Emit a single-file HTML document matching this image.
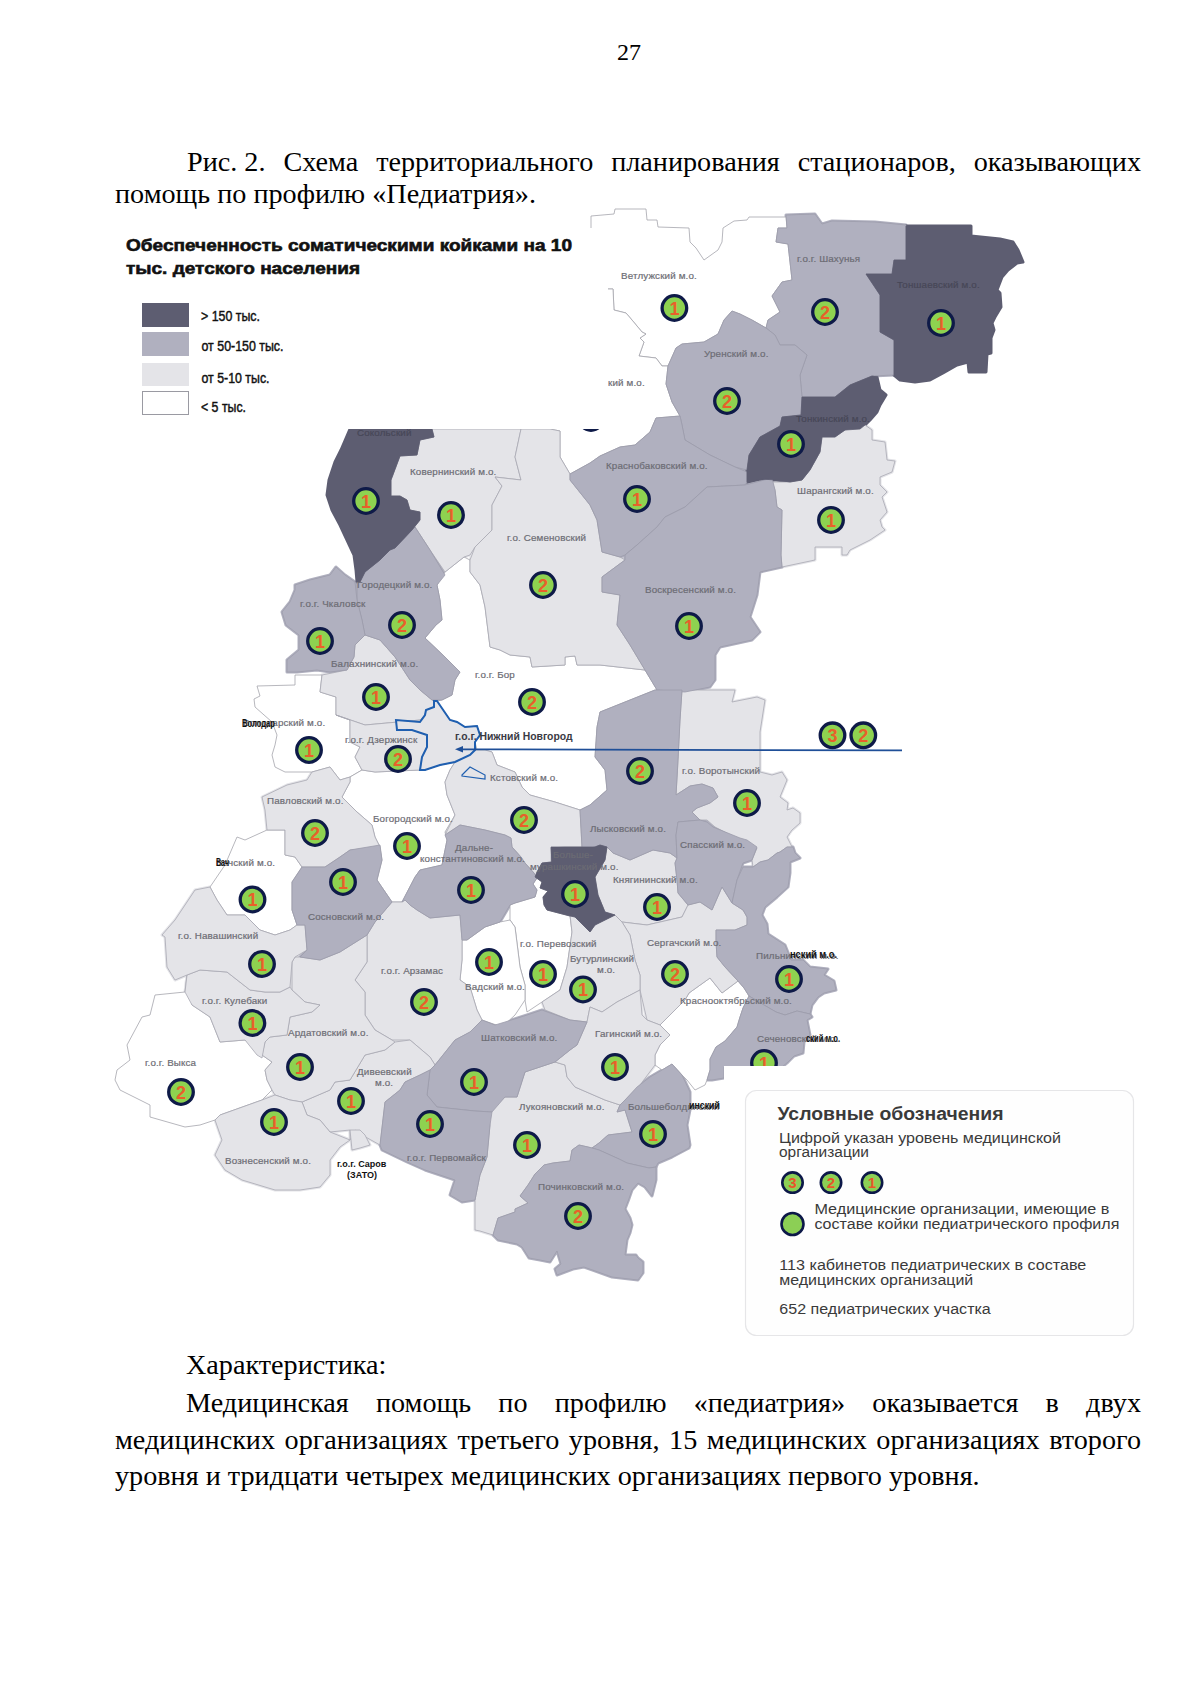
<!DOCTYPE html>
<html lang="ru"><head><meta charset="utf-8"><title>Рис. 2</title>
<style>
html,body{margin:0;padding:0;background:#fff}
body{width:1200px;height:1697px;position:relative;overflow:hidden}
.map{position:absolute;left:0;top:0}
.t{position:absolute;font-family:"Liberation Serif","Noto Serif CJK SC",serif;font-size:28.2px;line-height:28px;color:#000;white-space:nowrap}
.j{text-align:justify;text-align-last:justify;white-space:normal}
.ov{position:absolute;left:0;top:0}
</style></head><body>
<svg class="map" width="1200" height="1697" viewBox="0 0 1200 1697">
<style>
.W{fill:#fff;stroke:#a4a4ac;stroke-width:.8}
.L{fill:#e4e4e8;stroke:#a8a8b2;stroke-width:.8}
.M{fill:#b0b0bf;stroke:#9c9cab;stroke-width:.8}
.D{fill:#5d5d71;stroke:#5d5d71;stroke-width:.8}
.mr{fill:#8ed250;stroke:#0e1a48;stroke-width:3.3}
.mn{font:bold 18px "Liberation Sans",sans-serif;fill:#e8602a;text-anchor:middle}
.lb{font:9.8px "Liberation Sans",sans-serif;letter-spacing:.15px;fill:#6c6c74;stroke:#6c6c74;stroke-width:.2}
.lb.dk{fill:#474757;stroke:#474757}
.bk{font:bold 10.1px "Liberation Sans",sans-serif;fill:#111}
.nn{fill:none;stroke:#1f5fb0;stroke-width:2}
</style>
<polygon fill="#fff" stroke="#fff" stroke-width="3" stroke-linejoin="round" points="591,227 591,216 614,214 615,209 646,209 647,220 657,220 658,227 689,228 690,242 696,248 704,260 718,250 722,242 723,228 734,221 747,220 749,217 786,217 787,228 778,228 776,242 788,244 792,280 782,282 772,296 780,312 768,320 766,328 752,320 740,314 732,311 724,320 718,334 704,342 682,344 676,348 668,366 662,366 656,358 639,356 644,342 640,338 646,334 642,332 632,320 626,313 614,310 613,289 600,289 591,289"/>
<polygon fill="#fff" stroke="#fff" stroke-width="3" stroke-linejoin="round" points="600,289 613,289 614,310 626,313 632,320 642,332 646,334 640,338 644,342 639,356 656,358 662,366 668,366 666,384 672,402 680,416 656,418 650,432 635,445 620,447 600,456 590,463 570,474 560,457 560,431 550,429 540,429 540,289"/>
<polygon fill="#fff" stroke="#fff" stroke-width="3" stroke-linejoin="round" points="445,572 464,557 470,560 470,572 480,585 485,607 490,647 500,650 510,655 530,657 532,667 565,665 565,657 575,656 577,665 600,665 645,670 657,690 655,690 600,712 597,727 595,757 605,770 607,790 590,805 580,810 555,802 530,795 522,787 515,772 497,765 492,752 485,750 477,750 475,742 480,735 477,726 465,727 457,722 450,720 437,701 442,700 452,695 455,680 460,672 445,657 425,638 436,625 442,620 440,600 437,585"/>
<polygon fill="#fff" stroke="#fff" stroke-width="3" stroke-linejoin="round" points="257,686 295,685 295,675 322,675 320,692 336,697 336,715 350,720 350,742 360,747 355,757 362,770 350,777 340,780 330,767 312,772 305,772 285,772 275,767 272,755 275,745 277,735 272,722 255,707 254,699 260,696"/>
<polygon fill="#fff" stroke="#fff" stroke-width="3" stroke-linejoin="round" points="237,837 245,840 267,830 285,830 285,855 295,857 302,867 292,882 292,910 297,925 290,930 275,935 260,930 245,915 227,915 217,900 210,887 225,865"/>
<polygon fill="#fff" stroke="#fff" stroke-width="3" stroke-linejoin="round" points="350,777 362,770 375,772 420,770 425,770 440,765 455,762 450,770 445,782 447,795 455,815 445,832 447,840 442,865 420,870 415,877 402,902 392,902 377,880 382,860 380,847 375,837 372,825 357,812 342,797 350,782"/>
<polygon fill="#fff" stroke="#fff" stroke-width="3" stroke-linejoin="round" points="510,920 510,905 515,903 535,897 537,890 533,884 537,878 542,882 540,888 548,891 543,897 544,905 547,910 570,916 572,932 567,967 560,990 542,1002 527,1012 525,1000 525,985 520,967 515,927"/>
<polygon fill="#fff" stroke="#fff" stroke-width="3" stroke-linejoin="round" points="462,940 467,940 485,927 500,922 510,920 515,927 520,967 525,985 525,1000 515,1015 502,1027 482,1020 477,1010 470,987 460,980 462,960"/>
<polygon fill="#fff" stroke="#fff" stroke-width="3" stroke-linejoin="round" points="187,975 185,992 155,995 150,1015 142,1017 127,1045 130,1060 117,1070 115,1080 120,1090 150,1105 150,1117 185,1127 200,1125 215,1120 220,1115 262,1100 272,1090 267,1080 265,1070 272,1062 262,1055 245,1040 220,1042 210,1017 192,1005"/>
<polygon fill="#fff" stroke="#fff" stroke-width="3" stroke-linejoin="round" points="660,1025 685,1000 689,993 710,978 722,993 738,981 744,988 749,996 743,1008 740,1017 737,1027 725,1041 716,1047 710,1059 710,1070 707,1080 705,1085 695,1090 687,1080 682,1075 672,1064 662,1070 655,1065 655,1055 660,1045 670,1035"/>
<polygon fill="#e4e4e8" stroke="#e4e4e8" stroke-width="3" stroke-linejoin="round" points="845,430 865,425 872,430 872,440 885,442 887,460 895,461 892,472 880,477 880,485 887,492 882,497 887,512 880,520 882,527 885,530 870,540 850,550 847,555 842,555 842,547 815,547 815,560 782,567 781,555 782,510 777,507 775,490 772,482 790,482 802,480 810,470 820,452 822,437 835,437"/>
<polygon fill="#e4e4e8" stroke="#e4e4e8" stroke-width="3" stroke-linejoin="round" points="432,429 521,429 515,457 521,480 495,477 502,486 492,505 492,530 475,547 470,555 464,557 445,572 430,550 415,527 412,530 420,520 420,512 410,510 407,500 400,496 391,496 391,480 400,456 417,455 420,440 434,437"/>
<polygon fill="#e4e4e8" stroke="#e4e4e8" stroke-width="3" stroke-linejoin="round" points="521,429 550,429 560,431 560,457 570,474 570,480 590,505 597,520 602,552 620,557 625,560 602,577 602,592 620,595 617,625 630,645 645,670 600,665 577,665 575,656 565,657 565,665 532,667 530,657 510,655 500,650 490,647 485,607 480,585 470,572 470,560 475,547 492,530 492,505 502,486 495,477 521,480 515,457"/>
<polygon fill="#e4e4e8" stroke="#e4e4e8" stroke-width="3" stroke-linejoin="round" points="322,675 347,670 354,657 355,645 365,635 380,640 395,657 410,680 420,690 432,700 435,702 432,710 420,720 365,725 336,715 336,697 320,692"/>
<polygon fill="#e4e4e8" stroke="#e4e4e8" stroke-width="3" stroke-linejoin="round" points="336,715 365,725 420,720 432,710 434,707 426,710 425,715 420,722 396,720 397,730 412,730 427,735 427,747 422,757 420,770 375,772 362,770 355,757 360,747 350,742 350,720"/>
<polygon fill="#e4e4e8" stroke="#e4e4e8" stroke-width="3" stroke-linejoin="round" points="434,701 437,701 450,720 457,722 465,727 477,726 480,735 475,742 475,750 470,755 455,762 440,765 425,770 420,770 422,757 427,747 427,735 412,730 397,730 396,720 420,722 425,715 426,710 434,707"/>
<polygon fill="#e4e4e8" stroke="#e4e4e8" stroke-width="3" stroke-linejoin="round" points="262,797 287,785 307,780 312,772 330,767 340,780 350,777 350,782 342,797 357,812 372,825 375,837 380,847 350,850 340,857 325,867 302,867 295,857 285,855 285,830 267,830 265,810"/>
<polygon fill="#e4e4e8" stroke="#e4e4e8" stroke-width="3" stroke-linejoin="round" points="455,762 470,755 475,750 485,750 492,752 497,765 515,772 522,787 530,795 555,802 580,810 582,847 565,847 551,848 551,862 542,863 537,872 535,877 534,873 525,863 521,857 512,847 511,838 505,835 485,830 460,825 445,835 455,815 447,795 445,782 450,770"/>
<polygon fill="#e4e4e8" stroke="#e4e4e8" stroke-width="3" stroke-linejoin="round" points="682,690 735,690 732,702 757,697 765,700 760,732 760,750 760,772 772,775 782,772 787,780 780,797 788,803 787,810 793,808 800,813 800,823 792,830 787,837 792,847 787,847 780,852 777,853 768,860 760,862 753,867 752,860 757,848 743,847 740,840 715,827 707,820 700,820 692,812 697,808 710,803 718,797 713,788 702,784 690,786 676,795 677,778 678,760 680,720"/>
<polygon fill="#e4e4e8" stroke="#e4e4e8" stroke-width="3" stroke-linejoin="round" points="607,847 613,853 630,860 653,850 670,853 677,858 675,863 677,880 678,893 688,905 682,917 647,925 622,922 615,915 605,912 598,895 595,877 605,860"/>
<polygon fill="#e4e4e8" stroke="#e4e4e8" stroke-width="3" stroke-linejoin="round" points="635,960 630,935 622,922 647,925 682,917 688,905 700,902 712,910 722,887 732,903 743,910 747,917 747,925 735,930 716,930 716,942 717,957 725,967 738,981 722,993 710,978 689,993 685,1000 660,1025 647,1020 640,990 640,975"/>
<polygon fill="#e4e4e8" stroke="#e4e4e8" stroke-width="3" stroke-linejoin="round" points="570,915 575,917 590,932 595,925 615,915 622,922 630,935 635,960 640,975 640,990 617,1002 602,1012 590,1007 587,1022 570,1020 545,1010 542,1002 560,990 567,967 572,932"/>
<polygon fill="#e4e4e8" stroke="#e4e4e8" stroke-width="3" stroke-linejoin="round" points="367,935 375,922 392,902 402,902 405,900 410,905 417,910 430,918 460,915 462,940 462,960 460,980 470,987 477,1010 482,1020 470,1032 455,1040 435,1065 430,1057 410,1040 392,1040 375,1030 365,1015 365,992 355,980 367,962"/>
<polygon fill="#e4e4e8" stroke="#e4e4e8" stroke-width="3" stroke-linejoin="round" points="350,1140 350,1130 330,1132 320,1120 307,1115 302,1102 330,1090 335,1082 350,1080 365,1055 385,1050 395,1042 410,1040 430,1057 435,1065 430,1070 420,1075 405,1082 400,1090 385,1102 380,1145 362,1135 355,1130"/>
<polygon fill="#e4e4e8" stroke="#e4e4e8" stroke-width="3" stroke-linejoin="round" points="265,1042 270,1037 287,1035 290,1017 312,1012 320,1005 305,1002 292,990 292,962 295,957 300,957 320,960 340,952 367,935 367,962 355,980 365,992 365,1015 375,1030 392,1040 395,1042 385,1050 365,1055 350,1080 335,1082 330,1090 302,1102 290,1100 275,1095 272,1090 267,1080 265,1070 272,1062 262,1055"/>
<polygon fill="#e4e4e8" stroke="#e4e4e8" stroke-width="3" stroke-linejoin="round" points="187,975 200,970 227,972 250,990 265,992 280,992 290,987 292,990 305,1002 320,1005 312,1012 290,1017 287,1035 270,1037 265,1042 262,1058 257,1055 245,1040 220,1042 210,1017 192,1005 185,992"/>
<polygon fill="#e4e4e8" stroke="#e4e4e8" stroke-width="3" stroke-linejoin="round" points="162,935 175,920 195,890 210,887 217,900 227,915 245,915 260,930 275,935 290,930 297,925 305,925 307,950 295,957 292,962 290,987 280,992 265,992 250,990 227,972 200,970 187,975 175,980 167,967 165,937"/>
<polygon fill="#e4e4e8" stroke="#e4e4e8" stroke-width="3" stroke-linejoin="round" points="215,1120 220,1115 262,1100 275,1095 290,1100 302,1102 307,1115 320,1120 330,1132 350,1140 340,1147 330,1160 330,1175 320,1187 300,1190 275,1190 242,1180 225,1170 215,1155 222,1140"/>
<polygon fill="#e4e4e8" stroke="#e4e4e8" stroke-width="3" stroke-linejoin="round" points="487,1112 505,1097 517,1097 525,1072 555,1062 565,1065 567,1077 575,1087 605,1100 620,1105 617,1112 625,1110 632,1132 616,1134 608,1135 599,1143 592,1148 588,1147 579,1145 572,1150 570,1161 553,1163 544,1165 535,1174 528,1185 520,1196 528,1203 515,1209 515,1212 498,1218 493,1235 480,1231 475,1230 475,1200 480,1175 487,1157 490,1125"/>
<polygon fill="#e4e4e8" stroke="#e4e4e8" stroke-width="3" stroke-linejoin="round" points="577,1045 587,1022 590,1007 602,1012 617,1002 640,990 642,1015 647,1020 660,1025 670,1035 660,1045 655,1055 655,1065 640,1085 625,1100 620,1105 605,1100 575,1087 567,1077 565,1065 555,1062 570,1050"/>
<polygon fill="#e4e4e8" stroke="#e4e4e8" stroke-width="3" stroke-linejoin="round" points="350,1130 360,1130 365,1135 370,1145 360,1148 352,1150"/>
<polygon fill="#b0b0bf" stroke="#b0b0bf" stroke-width="3" stroke-linejoin="round" points="786,215 815,214 822,224 832,221 875,222 906,225 906,260 894,260 892,274 866,274 880,295 880,332 894,340 894,375 872,376 850,385 835,397 802,397 800,375 807,355 795,345 780,345 775,335 766,328 768,320 780,312 772,296 782,282 792,280 788,244 776,242 778,228 787,228"/>
<polygon fill="#b0b0bf" stroke="#b0b0bf" stroke-width="3" stroke-linejoin="round" points="766,328 752,320 740,314 732,311 724,320 718,334 704,342 682,344 676,348 668,366 666,384 672,402 680,416 682,425 685,440 710,455 735,467 747,470 749,455 760,437 780,426 782,417 801,415 802,397 800,375 807,355 795,345 780,345 775,335"/>
<polygon fill="#b0b0bf" stroke="#b0b0bf" stroke-width="3" stroke-linejoin="round" points="570,474 590,463 600,456 620,447 635,445 650,432 656,418 680,416 682,425 685,440 710,455 735,467 747,472 747,482 745,485 707,487 685,507 665,517 657,527 637,545 625,555 620,557 602,552 597,520 590,505 570,480"/>
<polygon fill="#b0b0bf" stroke="#b0b0bf" stroke-width="3" stroke-linejoin="round" points="707,487 745,485 772,478 775,490 777,507 782,510 781,555 782,567 760,572 757,595 750,617 760,632 752,640 720,647 715,655 715,680 710,687 685,692 657,690 645,670 630,645 617,625 620,595 602,592 602,577 625,560 625,555 637,545 657,527 665,517 685,507"/>
<polygon fill="#b0b0bf" stroke="#b0b0bf" stroke-width="3" stroke-linejoin="round" points="357,582 360,582 365,572 380,560 390,550 395,548 412,530 415,527 430,550 445,575 437,585 440,600 442,620 436,625 425,638 445,657 460,672 455,680 452,695 442,700 432,700 420,690 410,680 395,657 380,640 365,635 362,620 357,600"/>
<polygon fill="#b0b0bf" stroke="#b0b0bf" stroke-width="3" stroke-linejoin="round" points="336,567 345,575 355,582 357,600 362,620 365,635 355,645 354,657 347,670 330,672 317,670 297,672 287,672 287,660 299,650 299,635 286,625 282,612 290,602 295,590 295,585 310,580 330,575"/>
<polygon fill="#b0b0bf" stroke="#b0b0bf" stroke-width="3" stroke-linejoin="round" points="302,867 325,867 340,857 350,850 380,845 382,860 377,880 392,902 375,922 367,935 340,952 320,960 300,957 307,950 305,925 297,925 292,910 292,882"/>
<polygon fill="#b0b0bf" stroke="#b0b0bf" stroke-width="3" stroke-linejoin="round" points="445,835 460,825 485,830 505,835 511,838 512,847 521,857 525,863 534,873 537,878 533,884 537,890 535,897 515,903 510,905 500,922 485,927 467,940 462,940 460,915 430,918 417,910 410,905 405,900 402,902 415,877 420,870 442,865 447,840"/>
<polygon fill="#b0b0bf" stroke="#b0b0bf" stroke-width="3" stroke-linejoin="round" points="600,712 655,690 682,690 680,720 678,760 677,778 676,795 690,786 702,784 713,788 718,797 710,803 697,808 692,812 700,820 678,822 676,835 677,858 670,853 653,850 630,860 613,853 607,847 600,845 585,850 582,847 580,810 590,805 607,790 605,770 595,757 597,727"/>
<polygon fill="#b0b0bf" stroke="#b0b0bf" stroke-width="3" stroke-linejoin="round" points="678,822 700,820 707,822 713,827 740,838 747,840 757,847 752,860 743,863 737,880 732,903 722,887 712,910 700,902 688,905 678,893 677,880 675,863 677,858 676,835"/>
<polygon fill="#b0b0bf" stroke="#b0b0bf" stroke-width="3" stroke-linejoin="round" points="737,880 743,867 753,867 760,862 768,860 777,853 780,852 787,847 793,847 795,853 800,858 790,862 790,873 788,887 777,897 765,907 762,915 767,924 768,934 785,945 791,960 803,960 810,967 828,969 824,975 834,981 836,990 824,993 818,997 812,1005 810,1014 797,1011 785,1015 776,1012 764,1005 749,996 744,988 738,981 725,967 717,957 716,942 716,930 735,930 747,925 747,917 743,910 732,903"/>
<polygon fill="#b0b0bf" stroke="#b0b0bf" stroke-width="3" stroke-linejoin="round" points="435,1065 455,1040 470,1032 482,1020 495,1025 505,1022 527,1015 542,1010 570,1020 587,1022 577,1045 570,1050 555,1062 525,1072 517,1097 505,1097 492,1112 475,1111 437,1107 427,1095 430,1070"/>
<polygon fill="#b0b0bf" stroke="#b0b0bf" stroke-width="3" stroke-linejoin="round" points="380,1145 385,1102 400,1090 405,1082 420,1075 430,1070 427,1095 437,1107 475,1111 492,1112 490,1125 487,1157 480,1175 475,1200 462,1202 450,1195 455,1180 425,1170 407,1162 382,1150"/>
<polygon fill="#b0b0bf" stroke="#b0b0bf" stroke-width="3" stroke-linejoin="round" points="637,1087 650,1077 662,1070 672,1064 682,1075 690,1092 690,1110 687,1125 690,1145 689,1148 672,1157 658,1163 656,1167 649,1168 627,1163 619,1159 599,1150 592,1148 599,1143 608,1135 616,1134 632,1132 625,1110 617,1112 620,1105 625,1100"/>
<polygon fill="#b0b0bf" stroke="#b0b0bf" stroke-width="3" stroke-linejoin="round" points="493,1235 498,1218 515,1212 515,1209 528,1203 520,1196 528,1185 535,1174 544,1165 553,1163 570,1161 572,1150 579,1145 588,1147 592,1148 599,1150 619,1159 627,1163 649,1168 656,1167 656,1174 656,1180 652,1196 645,1187 638,1183 632,1190 628.5,1200 625,1209 630,1218 632,1225 630,1233 627,1240 625,1255 636,1255 638,1258 643,1262 643,1273 638,1280 612,1277 584,1267 573,1269 557,1275 555,1269 561,1264 557,1251 550,1262 540,1260 529,1258 522,1247 517,1244 498,1240"/>
<polygon fill="#b0b0bf" stroke="#b0b0bf" stroke-width="3" stroke-linejoin="round" points="749,996 764,1005 776,1012 785,1015 797,1011 810,1014 812,1017 807,1020 810,1035 804,1042 803,1053 794,1056 788,1062 782,1067 724,1067 724,1078 712,1080 707,1080 710,1070 710,1059 716,1047 725,1041 737,1027 740,1017 743,1008"/>
<polygon fill="#5d5d71" stroke="#5d5d71" stroke-width="3" stroke-linejoin="round" points="906,226 971,226 971,236 1000,239 1013,242 1018,250 1023,262 1017,263 1008,270 1002,277 997,290 1000,293 1001,307 995,317 992,323 994,330 991,338 991,353 987,354 986,372 969,372 968,362 957,365 943,373 930,380 915,382 900,380 894,375 894,340 880,332 880,295 866,274 892,274 894,260 906,260"/>
<polygon fill="#5d5d71" stroke="#5d5d71" stroke-width="3" stroke-linejoin="round" points="802,397 835,397 850,385 872,376 877,377 880,390 886,395 880,405 877,412 870,420 865,425 860,429 845,430 835,437 822,437 820,452 810,470 802,480 790,482 777,480 760,479 747,482 747,470 749,455 760,437 780,426 782,417 801,415"/>
<polygon fill="#5d5d71" stroke="#5d5d71" stroke-width="3" stroke-linejoin="round" points="350,429 432,429 434,437 420,440 417,455 400,456 391,480 391,496 400,496 407,500 410,510 420,512 420,520 412,530 395,548 390,550 380,560 365,572 360,582 357,582 356,570 354,555 347,540 340,525 332,510 327,495 329,480 335,462 341,450"/>
<polygon fill="#5d5d71" stroke="#5d5d71" stroke-width="3" stroke-linejoin="round" points="551,847 565,847 595,847 600,845 607,847 605,860 595,877 598,895 605,912 615,915 595,925 590,932 575,917 570,916 547,910 544,905 543,897 548,891 540,888 542,882 535,877 537,872 542,863 552,862"/>
<polygon class="W" points="591,227 591,216 614,214 615,209 646,209 647,220 657,220 658,227 689,228 690,242 696,248 704,260 718,250 722,242 723,228 734,221 747,220 749,217 786,217 787,228 778,228 776,242 788,244 792,280 782,282 772,296 780,312 768,320 766,328 752,320 740,314 732,311 724,320 718,334 704,342 682,344 676,348 668,366 662,366 656,358 639,356 644,342 640,338 646,334 642,332 632,320 626,313 614,310 613,289 600,289 591,289"/>
<polygon class="W" points="600,289 613,289 614,310 626,313 632,320 642,332 646,334 640,338 644,342 639,356 656,358 662,366 668,366 666,384 672,402 680,416 656,418 650,432 635,445 620,447 600,456 590,463 570,474 560,457 560,431 550,429 540,429 540,289"/>
<polygon class="W" points="445,572 464,557 470,560 470,572 480,585 485,607 490,647 500,650 510,655 530,657 532,667 565,665 565,657 575,656 577,665 600,665 645,670 657,690 655,690 600,712 597,727 595,757 605,770 607,790 590,805 580,810 555,802 530,795 522,787 515,772 497,765 492,752 485,750 477,750 475,742 480,735 477,726 465,727 457,722 450,720 437,701 442,700 452,695 455,680 460,672 445,657 425,638 436,625 442,620 440,600 437,585"/>
<polygon class="W" points="257,686 295,685 295,675 322,675 320,692 336,697 336,715 350,720 350,742 360,747 355,757 362,770 350,777 340,780 330,767 312,772 305,772 285,772 275,767 272,755 275,745 277,735 272,722 255,707 254,699 260,696"/>
<polygon class="W" points="237,837 245,840 267,830 285,830 285,855 295,857 302,867 292,882 292,910 297,925 290,930 275,935 260,930 245,915 227,915 217,900 210,887 225,865"/>
<polygon class="W" points="350,777 362,770 375,772 420,770 425,770 440,765 455,762 450,770 445,782 447,795 455,815 445,832 447,840 442,865 420,870 415,877 402,902 392,902 377,880 382,860 380,847 375,837 372,825 357,812 342,797 350,782"/>
<polygon class="W" points="510,920 510,905 515,903 535,897 537,890 533,884 537,878 542,882 540,888 548,891 543,897 544,905 547,910 570,916 572,932 567,967 560,990 542,1002 527,1012 525,1000 525,985 520,967 515,927"/>
<polygon class="W" points="462,940 467,940 485,927 500,922 510,920 515,927 520,967 525,985 525,1000 515,1015 502,1027 482,1020 477,1010 470,987 460,980 462,960"/>
<polygon class="W" points="187,975 185,992 155,995 150,1015 142,1017 127,1045 130,1060 117,1070 115,1080 120,1090 150,1105 150,1117 185,1127 200,1125 215,1120 220,1115 262,1100 272,1090 267,1080 265,1070 272,1062 262,1055 245,1040 220,1042 210,1017 192,1005"/>
<polygon class="W" points="660,1025 685,1000 689,993 710,978 722,993 738,981 744,988 749,996 743,1008 740,1017 737,1027 725,1041 716,1047 710,1059 710,1070 707,1080 705,1085 695,1090 687,1080 682,1075 672,1064 662,1070 655,1065 655,1055 660,1045 670,1035"/>
<polygon class="L" points="845,430 865,425 872,430 872,440 885,442 887,460 895,461 892,472 880,477 880,485 887,492 882,497 887,512 880,520 882,527 885,530 870,540 850,550 847,555 842,555 842,547 815,547 815,560 782,567 781,555 782,510 777,507 775,490 772,482 790,482 802,480 810,470 820,452 822,437 835,437"/>
<polygon class="L" points="432,429 521,429 515,457 521,480 495,477 502,486 492,505 492,530 475,547 470,555 464,557 445,572 430,550 415,527 412,530 420,520 420,512 410,510 407,500 400,496 391,496 391,480 400,456 417,455 420,440 434,437"/>
<polygon class="L" points="521,429 550,429 560,431 560,457 570,474 570,480 590,505 597,520 602,552 620,557 625,560 602,577 602,592 620,595 617,625 630,645 645,670 600,665 577,665 575,656 565,657 565,665 532,667 530,657 510,655 500,650 490,647 485,607 480,585 470,572 470,560 475,547 492,530 492,505 502,486 495,477 521,480 515,457"/>
<polygon class="L" points="322,675 347,670 354,657 355,645 365,635 380,640 395,657 410,680 420,690 432,700 435,702 432,710 420,720 365,725 336,715 336,697 320,692"/>
<polygon class="L" points="336,715 365,725 420,720 432,710 434,707 426,710 425,715 420,722 396,720 397,730 412,730 427,735 427,747 422,757 420,770 375,772 362,770 355,757 360,747 350,742 350,720"/>
<polygon class="L" points="434,701 437,701 450,720 457,722 465,727 477,726 480,735 475,742 475,750 470,755 455,762 440,765 425,770 420,770 422,757 427,747 427,735 412,730 397,730 396,720 420,722 425,715 426,710 434,707"/>
<polygon class="L" points="262,797 287,785 307,780 312,772 330,767 340,780 350,777 350,782 342,797 357,812 372,825 375,837 380,847 350,850 340,857 325,867 302,867 295,857 285,855 285,830 267,830 265,810"/>
<polygon class="L" points="455,762 470,755 475,750 485,750 492,752 497,765 515,772 522,787 530,795 555,802 580,810 582,847 565,847 551,848 551,862 542,863 537,872 535,877 534,873 525,863 521,857 512,847 511,838 505,835 485,830 460,825 445,835 455,815 447,795 445,782 450,770"/>
<polygon class="L" points="682,690 735,690 732,702 757,697 765,700 760,732 760,750 760,772 772,775 782,772 787,780 780,797 788,803 787,810 793,808 800,813 800,823 792,830 787,837 792,847 787,847 780,852 777,853 768,860 760,862 753,867 752,860 757,848 743,847 740,840 715,827 707,820 700,820 692,812 697,808 710,803 718,797 713,788 702,784 690,786 676,795 677,778 678,760 680,720"/>
<polygon class="L" points="607,847 613,853 630,860 653,850 670,853 677,858 675,863 677,880 678,893 688,905 682,917 647,925 622,922 615,915 605,912 598,895 595,877 605,860"/>
<polygon class="L" points="635,960 630,935 622,922 647,925 682,917 688,905 700,902 712,910 722,887 732,903 743,910 747,917 747,925 735,930 716,930 716,942 717,957 725,967 738,981 722,993 710,978 689,993 685,1000 660,1025 647,1020 640,990 640,975"/>
<polygon class="L" points="570,915 575,917 590,932 595,925 615,915 622,922 630,935 635,960 640,975 640,990 617,1002 602,1012 590,1007 587,1022 570,1020 545,1010 542,1002 560,990 567,967 572,932"/>
<polygon class="L" points="367,935 375,922 392,902 402,902 405,900 410,905 417,910 430,918 460,915 462,940 462,960 460,980 470,987 477,1010 482,1020 470,1032 455,1040 435,1065 430,1057 410,1040 392,1040 375,1030 365,1015 365,992 355,980 367,962"/>
<polygon class="L" points="350,1140 350,1130 330,1132 320,1120 307,1115 302,1102 330,1090 335,1082 350,1080 365,1055 385,1050 395,1042 410,1040 430,1057 435,1065 430,1070 420,1075 405,1082 400,1090 385,1102 380,1145 362,1135 355,1130"/>
<polygon class="L" points="265,1042 270,1037 287,1035 290,1017 312,1012 320,1005 305,1002 292,990 292,962 295,957 300,957 320,960 340,952 367,935 367,962 355,980 365,992 365,1015 375,1030 392,1040 395,1042 385,1050 365,1055 350,1080 335,1082 330,1090 302,1102 290,1100 275,1095 272,1090 267,1080 265,1070 272,1062 262,1055"/>
<polygon class="L" points="187,975 200,970 227,972 250,990 265,992 280,992 290,987 292,990 305,1002 320,1005 312,1012 290,1017 287,1035 270,1037 265,1042 262,1058 257,1055 245,1040 220,1042 210,1017 192,1005 185,992"/>
<polygon class="L" points="162,935 175,920 195,890 210,887 217,900 227,915 245,915 260,930 275,935 290,930 297,925 305,925 307,950 295,957 292,962 290,987 280,992 265,992 250,990 227,972 200,970 187,975 175,980 167,967 165,937"/>
<polygon class="L" points="215,1120 220,1115 262,1100 275,1095 290,1100 302,1102 307,1115 320,1120 330,1132 350,1140 340,1147 330,1160 330,1175 320,1187 300,1190 275,1190 242,1180 225,1170 215,1155 222,1140"/>
<polygon class="L" points="487,1112 505,1097 517,1097 525,1072 555,1062 565,1065 567,1077 575,1087 605,1100 620,1105 617,1112 625,1110 632,1132 616,1134 608,1135 599,1143 592,1148 588,1147 579,1145 572,1150 570,1161 553,1163 544,1165 535,1174 528,1185 520,1196 528,1203 515,1209 515,1212 498,1218 493,1235 480,1231 475,1230 475,1200 480,1175 487,1157 490,1125"/>
<polygon class="L" points="577,1045 587,1022 590,1007 602,1012 617,1002 640,990 642,1015 647,1020 660,1025 670,1035 660,1045 655,1055 655,1065 640,1085 625,1100 620,1105 605,1100 575,1087 567,1077 565,1065 555,1062 570,1050"/>
<polygon class="L" points="350,1130 360,1130 365,1135 370,1145 360,1148 352,1150"/>
<polygon class="M" points="786,215 815,214 822,224 832,221 875,222 906,225 906,260 894,260 892,274 866,274 880,295 880,332 894,340 894,375 872,376 850,385 835,397 802,397 800,375 807,355 795,345 780,345 775,335 766,328 768,320 780,312 772,296 782,282 792,280 788,244 776,242 778,228 787,228"/>
<polygon class="M" points="766,328 752,320 740,314 732,311 724,320 718,334 704,342 682,344 676,348 668,366 666,384 672,402 680,416 682,425 685,440 710,455 735,467 747,470 749,455 760,437 780,426 782,417 801,415 802,397 800,375 807,355 795,345 780,345 775,335"/>
<polygon class="M" points="570,474 590,463 600,456 620,447 635,445 650,432 656,418 680,416 682,425 685,440 710,455 735,467 747,472 747,482 745,485 707,487 685,507 665,517 657,527 637,545 625,555 620,557 602,552 597,520 590,505 570,480"/>
<polygon class="M" points="707,487 745,485 772,478 775,490 777,507 782,510 781,555 782,567 760,572 757,595 750,617 760,632 752,640 720,647 715,655 715,680 710,687 685,692 657,690 645,670 630,645 617,625 620,595 602,592 602,577 625,560 625,555 637,545 657,527 665,517 685,507"/>
<polygon class="M" points="357,582 360,582 365,572 380,560 390,550 395,548 412,530 415,527 430,550 445,575 437,585 440,600 442,620 436,625 425,638 445,657 460,672 455,680 452,695 442,700 432,700 420,690 410,680 395,657 380,640 365,635 362,620 357,600"/>
<polygon class="M" points="336,567 345,575 355,582 357,600 362,620 365,635 355,645 354,657 347,670 330,672 317,670 297,672 287,672 287,660 299,650 299,635 286,625 282,612 290,602 295,590 295,585 310,580 330,575"/>
<polygon class="M" points="302,867 325,867 340,857 350,850 380,845 382,860 377,880 392,902 375,922 367,935 340,952 320,960 300,957 307,950 305,925 297,925 292,910 292,882"/>
<polygon class="M" points="445,835 460,825 485,830 505,835 511,838 512,847 521,857 525,863 534,873 537,878 533,884 537,890 535,897 515,903 510,905 500,922 485,927 467,940 462,940 460,915 430,918 417,910 410,905 405,900 402,902 415,877 420,870 442,865 447,840"/>
<polygon class="M" points="600,712 655,690 682,690 680,720 678,760 677,778 676,795 690,786 702,784 713,788 718,797 710,803 697,808 692,812 700,820 678,822 676,835 677,858 670,853 653,850 630,860 613,853 607,847 600,845 585,850 582,847 580,810 590,805 607,790 605,770 595,757 597,727"/>
<polygon class="M" points="678,822 700,820 707,822 713,827 740,838 747,840 757,847 752,860 743,863 737,880 732,903 722,887 712,910 700,902 688,905 678,893 677,880 675,863 677,858 676,835"/>
<polygon class="M" points="737,880 743,867 753,867 760,862 768,860 777,853 780,852 787,847 793,847 795,853 800,858 790,862 790,873 788,887 777,897 765,907 762,915 767,924 768,934 785,945 791,960 803,960 810,967 828,969 824,975 834,981 836,990 824,993 818,997 812,1005 810,1014 797,1011 785,1015 776,1012 764,1005 749,996 744,988 738,981 725,967 717,957 716,942 716,930 735,930 747,925 747,917 743,910 732,903"/>
<polygon class="M" points="435,1065 455,1040 470,1032 482,1020 495,1025 505,1022 527,1015 542,1010 570,1020 587,1022 577,1045 570,1050 555,1062 525,1072 517,1097 505,1097 492,1112 475,1111 437,1107 427,1095 430,1070"/>
<polygon class="M" points="380,1145 385,1102 400,1090 405,1082 420,1075 430,1070 427,1095 437,1107 475,1111 492,1112 490,1125 487,1157 480,1175 475,1200 462,1202 450,1195 455,1180 425,1170 407,1162 382,1150"/>
<polygon class="M" points="637,1087 650,1077 662,1070 672,1064 682,1075 690,1092 690,1110 687,1125 690,1145 689,1148 672,1157 658,1163 656,1167 649,1168 627,1163 619,1159 599,1150 592,1148 599,1143 608,1135 616,1134 632,1132 625,1110 617,1112 620,1105 625,1100"/>
<polygon class="M" points="493,1235 498,1218 515,1212 515,1209 528,1203 520,1196 528,1185 535,1174 544,1165 553,1163 570,1161 572,1150 579,1145 588,1147 592,1148 599,1150 619,1159 627,1163 649,1168 656,1167 656,1174 656,1180 652,1196 645,1187 638,1183 632,1190 628.5,1200 625,1209 630,1218 632,1225 630,1233 627,1240 625,1255 636,1255 638,1258 643,1262 643,1273 638,1280 612,1277 584,1267 573,1269 557,1275 555,1269 561,1264 557,1251 550,1262 540,1260 529,1258 522,1247 517,1244 498,1240"/>
<polygon class="M" points="749,996 764,1005 776,1012 785,1015 797,1011 810,1014 812,1017 807,1020 810,1035 804,1042 803,1053 794,1056 788,1062 782,1067 724,1067 724,1078 712,1080 707,1080 710,1070 710,1059 716,1047 725,1041 737,1027 740,1017 743,1008"/>
<polygon class="D" points="906,226 971,226 971,236 1000,239 1013,242 1018,250 1023,262 1017,263 1008,270 1002,277 997,290 1000,293 1001,307 995,317 992,323 994,330 991,338 991,353 987,354 986,372 969,372 968,362 957,365 943,373 930,380 915,382 900,380 894,375 894,340 880,332 880,295 866,274 892,274 894,260 906,260"/>
<polygon class="D" points="802,397 835,397 850,385 872,376 877,377 880,390 886,395 880,405 877,412 870,420 865,425 860,429 845,430 835,437 822,437 820,452 810,470 802,480 790,482 777,480 760,479 747,482 747,470 749,455 760,437 780,426 782,417 801,415"/>
<polygon class="D" points="350,429 432,429 434,437 420,440 417,455 400,456 391,480 391,496 400,496 407,500 410,510 420,512 420,520 412,530 395,548 390,550 380,560 365,572 360,582 357,582 356,570 354,555 347,540 340,525 332,510 327,495 329,480 335,462 341,450"/>
<polygon class="D" points="551,847 565,847 595,847 600,845 607,847 605,860 595,877 598,895 605,912 615,915 595,925 590,932 575,917 570,916 547,910 544,905 543,897 548,891 540,888 542,882 535,877 537,872 542,863 552,862"/>
<polygon class="nn" points="434,701 437,701 450,720 457,722 465,727 477,726 480,735 475,742 475,750 470,755 455,762 440,765 425,770 420,770 422,757 427,747 427,735 412,730 397,730 396,720 420,722 425,715 426,710 434,707"/>
<polygon class="nn" style="stroke-width:1.2" points="462,775 470,767 485,775 485,779 462,776"/>
<line x1="460" y1="749.3" x2="902" y2="750.4" stroke="#1f4f98" stroke-width="1.7"/>
<polygon points="455,749.3 463,746 463,752.6" fill="#1f4f98"/>
<g transform="translate(674.4,308)"><circle r="12.3" class="mr"/><text y="6.5" class="mn">1</text></g>
<g transform="translate(825,312)"><circle r="12.3" class="mr"/><text y="6.5" class="mn">2</text></g>
<g transform="translate(941,323)"><circle r="12.3" class="mr"/><text y="6.5" class="mn">1</text></g>
<g transform="translate(727,401)"><circle r="12.3" class="mr"/><text y="6.5" class="mn">2</text></g>
<g transform="translate(791,444)"><circle r="12.3" class="mr"/><text y="6.5" class="mn">1</text></g>
<g transform="translate(591,418)"><circle r="12.3" class="mr"/><text y="6.5" class="mn">1</text></g>
<g transform="translate(366,501)"><circle r="12.3" class="mr"/><text y="6.5" class="mn">1</text></g>
<g transform="translate(451,515)"><circle r="12.3" class="mr"/><text y="6.5" class="mn">1</text></g>
<g transform="translate(637,499)"><circle r="12.3" class="mr"/><text y="6.5" class="mn">1</text></g>
<g transform="translate(831,520)"><circle r="12.3" class="mr"/><text y="6.5" class="mn">1</text></g>
<g transform="translate(543,585)"><circle r="12.3" class="mr"/><text y="6.5" class="mn">2</text></g>
<g transform="translate(320,641)"><circle r="12.3" class="mr"/><text y="6.5" class="mn">1</text></g>
<g transform="translate(402,625)"><circle r="12.3" class="mr"/><text y="6.5" class="mn">2</text></g>
<g transform="translate(689,626)"><circle r="12.3" class="mr"/><text y="6.5" class="mn">1</text></g>
<g transform="translate(376,697)"><circle r="12.3" class="mr"/><text y="6.5" class="mn">1</text></g>
<g transform="translate(532,702)"><circle r="12.3" class="mr"/><text y="6.5" class="mn">2</text></g>
<g transform="translate(309,750)"><circle r="12.3" class="mr"/><text y="6.5" class="mn">1</text></g>
<g transform="translate(398,759)"><circle r="12.3" class="mr"/><text y="6.5" class="mn">2</text></g>
<g transform="translate(640,771)"><circle r="12.3" class="mr"/><text y="6.5" class="mn">2</text></g>
<g transform="translate(832.5,735.3)"><circle r="12.3" class="mr"/><text y="6.5" class="mn">3</text></g>
<g transform="translate(863.3,735.3)"><circle r="12.3" class="mr"/><text y="6.5" class="mn">2</text></g>
<g transform="translate(747,803)"><circle r="12.3" class="mr"/><text y="6.5" class="mn">1</text></g>
<g transform="translate(315,833)"><circle r="12.3" class="mr"/><text y="6.5" class="mn">2</text></g>
<g transform="translate(407,846)"><circle r="12.3" class="mr"/><text y="6.5" class="mn">1</text></g>
<g transform="translate(524,820)"><circle r="12.3" class="mr"/><text y="6.5" class="mn">2</text></g>
<g transform="translate(252.5,899.5)"><circle r="12.3" class="mr"/><text y="6.5" class="mn">1</text></g>
<g transform="translate(343,882)"><circle r="12.3" class="mr"/><text y="6.5" class="mn">1</text></g>
<g transform="translate(471,890)"><circle r="12.3" class="mr"/><text y="6.5" class="mn">1</text></g>
<g transform="translate(575,894)"><circle r="12.3" class="mr"/><text y="6.5" class="mn">1</text></g>
<g transform="translate(657,907)"><circle r="12.3" class="mr"/><text y="6.5" class="mn">1</text></g>
<g transform="translate(262,964)"><circle r="12.3" class="mr"/><text y="6.5" class="mn">1</text></g>
<g transform="translate(424,1002)"><circle r="12.3" class="mr"/><text y="6.5" class="mn">2</text></g>
<g transform="translate(489,962)"><circle r="12.3" class="mr"/><text y="6.5" class="mn">1</text></g>
<g transform="translate(543,974)"><circle r="12.3" class="mr"/><text y="6.5" class="mn">1</text></g>
<g transform="translate(583,989.5)"><circle r="12.3" class="mr"/><text y="6.5" class="mn">1</text></g>
<g transform="translate(675,974)"><circle r="12.3" class="mr"/><text y="6.5" class="mn">2</text></g>
<g transform="translate(789,979)"><circle r="12.3" class="mr"/><text y="6.5" class="mn">1</text></g>
<g transform="translate(252.4,1023)"><circle r="12.3" class="mr"/><text y="6.5" class="mn">1</text></g>
<g transform="translate(300,1067)"><circle r="12.3" class="mr"/><text y="6.5" class="mn">1</text></g>
<g transform="translate(351,1101)"><circle r="12.3" class="mr"/><text y="6.5" class="mn">1</text></g>
<g transform="translate(474,1082)"><circle r="12.3" class="mr"/><text y="6.5" class="mn">1</text></g>
<g transform="translate(615,1067)"><circle r="12.3" class="mr"/><text y="6.5" class="mn">1</text></g>
<g transform="translate(764,1063)"><circle r="12.3" class="mr"/><text y="6.5" class="mn">1</text></g>
<g transform="translate(181,1092)"><circle r="12.3" class="mr"/><text y="6.5" class="mn">2</text></g>
<g transform="translate(274,1122)"><circle r="12.3" class="mr"/><text y="6.5" class="mn">1</text></g>
<g transform="translate(430,1124)"><circle r="12.3" class="mr"/><text y="6.5" class="mn">1</text></g>
<g transform="translate(527,1145)"><circle r="12.3" class="mr"/><text y="6.5" class="mn">1</text></g>
<g transform="translate(653,1134)"><circle r="12.3" class="mr"/><text y="6.5" class="mn">1</text></g>
<g transform="translate(578,1216)"><circle r="12.3" class="mr"/><text y="6.5" class="mn">2</text></g>
<text x="621" y="279" class="lb">Ветлужский м.о.</text>
<text x="797" y="262" class="lb">г.о.г. Шахунья</text>
<text x="897" y="288" class="lb dk">Тоншаевский м.о.</text>
<text x="704" y="357" class="lb">Уренский м.о.</text>
<text x="608" y="386" class="lb">кий м.о.</text>
<text x="796" y="422" class="lb dk">Тонкинский м.о.</text>
<text x="357" y="436" class="lb dk">Сокольский</text>
<text x="410" y="475" class="lb">Ковернинский м.о.</text>
<text x="606" y="469" class="lb">Краснобаковский м.о.</text>
<text x="797" y="494" class="lb">Шарангский м.о.</text>
<text x="507" y="541" class="lb">г.о. Семеновский</text>
<text x="645" y="593" class="lb">Воскресенский м.о.</text>
<text x="357" y="588" class="lb">Городецкий м.о.</text>
<text x="300" y="607" class="lb">г.о.г. Чкаловск</text>
<text x="331" y="667" class="lb">Балахнинский м.о.</text>
<text x="475" y="678" class="lb">г.о.г. Бор</text>
<text x="243" y="726" class="lb">Володарский м.о.</text>
<text x="345" y="743" class="lb">г.о.г. Дзержинск</text>
<text x="490" y="781" class="lb">Кстовский м.о.</text>
<text x="682" y="774" class="lb">г.о. Воротынский</text>
<text x="267" y="804" class="lb">Павловский м.о.</text>
<text x="373" y="822" class="lb">Богородский м.о.</text>
<text x="590" y="832" class="lb">Лысковский м.о.</text>
<text x="680" y="848" class="lb">Спасский м.о.</text>
<text x="455" y="851" class="lb">Дальне-</text>
<text x="420" y="862" class="lb">константиновский м.о.</text>
<text x="553" y="858" class="lb">Больше-</text>
<text x="530" y="870" class="lb">мурашкинский м.о.</text>
<text x="216" y="865.5" class="lb">Вачский м.о.</text>
<text x="613" y="883" class="lb">Княгининский м.о.</text>
<text x="308" y="920" class="lb">Сосновский м.о.</text>
<text x="178" y="939" class="lb">г.о. Навашинский</text>
<text x="520" y="947" class="lb">г.о. Перевозский</text>
<text x="570" y="962" class="lb">Бутурлинский</text>
<text x="597" y="973" class="lb">м.о.</text>
<text x="647" y="946" class="lb">Сергачский м.о.</text>
<text x="756" y="959" class="lb">Пильнинский м.о.</text>
<text x="381" y="974" class="lb">г.о.г. Арзамас</text>
<text x="465" y="990" class="lb">Вадский м.о.</text>
<text x="202" y="1004" class="lb">г.о.г. Кулебаки</text>
<text x="680" y="1004" class="lb">Краснооктябрьский м.о.</text>
<text x="288" y="1036" class="lb">Ардатовский м.о.</text>
<text x="481" y="1041" class="lb">Шатковский м.о.</text>
<text x="595" y="1037" class="lb">Гагинский м.о.</text>
<text x="757" y="1042" class="lb">Сеченовский м.о.</text>
<text x="145" y="1066" class="lb">г.о.г. Выкса</text>
<text x="357" y="1075" class="lb">Дивеевский</text>
<text x="375" y="1086" class="lb">м.о.</text>
<text x="519" y="1110" class="lb">Лукояновский м.о.</text>
<text x="628" y="1110" class="lb">Большеболдинский</text>
<text x="407" y="1161" class="lb">г.о.г. Первомайск</text>
<text x="225" y="1164" class="lb">Вознесенский м.о.</text>
<text x="538" y="1190" class="lb">Починковский м.о.</text>
<text x="455" y="740" style="font:bold 10.4px 'Liberation Sans',sans-serif;fill:#3a3a44">г.о.г. Нижний Новгород</text>
<text x="242" y="727" class="bk" textLength="33" lengthAdjust="spacingAndGlyphs">Володар</text>
<text x="216" y="865.5" class="bk" textLength="13" lengthAdjust="spacingAndGlyphs">Вач</text>
<text x="790" y="958" class="bk" textLength="47" lengthAdjust="spacingAndGlyphs">нский м.о.</text>
<text x="806" y="1042" class="bk" textLength="34" lengthAdjust="spacingAndGlyphs">ский м.о.</text>
<text x="689" y="1109" class="bk" textLength="31" lengthAdjust="spacingAndGlyphs">инский</text>
<text x="337" y="1167" class="bk" style="font-size:9px">г.о.г. Саров</text>
<text x="347" y="1178" class="bk" style="font-size:9px">(ЗАТО)</text>
</svg>
<svg class="ov" width="1200" height="1697" viewBox="0 0 1200 1697">
<style>
.lt{font-family:"Liberation Sans",sans-serif;font-weight:bold;font-size:17px;fill:#111;stroke:#111;stroke-width:.6}
.ll{font-family:"Liberation Sans",sans-serif;font-size:14.5px;fill:#111;stroke:#111;stroke-width:.45}
.bt{font-family:"Liberation Sans",sans-serif;fill:#3a3a3a}
.mr2{fill:#8ccf55;stroke:#0c1848;stroke-width:2.6}
.mn2{font:bold 15px "Liberation Sans",sans-serif;fill:#e8562a;text-anchor:middle}
</style>
<!-- top-left legend panel -->
<rect x="100" y="228" width="508" height="201" fill="#fff"/>
<text class="lt" x="126" y="250.6" textLength="446" lengthAdjust="spacingAndGlyphs">Обеспеченность соматическими койками на 10</text>
<text class="lt" x="126" y="273.6" textLength="234" lengthAdjust="spacingAndGlyphs">тыс. детского населения</text>
<rect x="142" y="303" width="47" height="24" fill="#5d5d71"/>
<rect x="142" y="332" width="47" height="24" fill="#b0b0bf"/>
<rect x="142" y="363" width="47" height="23" fill="#e4e4e8"/>
<rect x="142.5" y="391.5" width="46" height="23" fill="#fff" stroke="#9a9aa2" stroke-width="1"/>
<text class="ll" x="201" y="321" textLength="59" lengthAdjust="spacingAndGlyphs">&gt; 150 тыс.</text>
<text class="ll" x="201.5" y="350.5" textLength="82" lengthAdjust="spacingAndGlyphs">от 50-150 тыс.</text>
<text class="ll" x="201.5" y="382.6" textLength="68" lengthAdjust="spacingAndGlyphs">от 5-10 тыс.</text>
<text class="ll" x="201" y="412.4" textLength="45" lengthAdjust="spacingAndGlyphs">&lt; 5 тыс.</text>
<!-- bottom-right white area + legend box -->
<rect x="724" y="1066" width="420" height="280" fill="#fff"/>
<rect x="745.5" y="1090.5" width="388" height="245" rx="11" fill="#fefefe" stroke="#e6e6e8" stroke-width="1.2"/>
<text class="bt" x="777.5" y="1119.6" style="font-weight:bold;font-size:17.6px" textLength="226" lengthAdjust="spacingAndGlyphs">Условные обозначения</text>
<text class="bt" x="779" y="1143" style="font-size:14.7px" textLength="282" lengthAdjust="spacingAndGlyphs">Цифрой указан уровень медицинской</text>
<text class="bt" x="779" y="1156.5" style="font-size:14.7px" textLength="90" lengthAdjust="spacingAndGlyphs">организации</text>
<g transform="translate(792.5,1182.6)"><circle r="10.2" class="mr2"/><text y="5.4" class="mn2">3</text></g>
<g transform="translate(831,1182.6)"><circle r="10.2" class="mr2"/><text y="5.4" class="mn2">2</text></g>
<g transform="translate(872,1182.6)"><circle r="10.2" class="mr2"/><text y="5.4" class="mn2">1</text></g>
<circle cx="792.5" cy="1224" r="11" class="mr2"/>
<text class="bt" x="814.4" y="1213.5" style="font-size:14.7px" textLength="295" lengthAdjust="spacingAndGlyphs">Медицинские организации, имеющие в</text>
<text class="bt" x="814.4" y="1228.5" style="font-size:14.7px" textLength="305" lengthAdjust="spacingAndGlyphs">составе койки педиатрического профиля</text>
<text class="bt" x="779.3" y="1270" style="font-size:14.7px" textLength="307" lengthAdjust="spacingAndGlyphs">113 кабинетов педиатрических в составе</text>
<text class="bt" x="779.3" y="1285" style="font-size:14.7px" textLength="194" lengthAdjust="spacingAndGlyphs">медицинских организаций</text>
<text class="bt" x="779.3" y="1314" style="font-size:14.7px" textLength="211.5" lengthAdjust="spacingAndGlyphs">652 педиатрических участка</text>
</svg>
<div class="t" style="left:617px;top:40px;font-size:24px;line-height:24px">27</div>
<div class="t j" style="left:187px;top:148px;width:954px"><span style="display:inline-block">Рис. 2.</span> Схема территориального планирования стационаров, оказывающих</div>
<div class="t" style="left:115px;top:180px">помощь по профилю «Педиатрия».</div>
<div class="t" style="left:186px;top:1351px">Характеристика:</div>
<div class="t j" style="left:186px;top:1388.5px;width:955px">Медицинская помощь по профилю «педиатрия» оказывается в двух</div>
<div class="t j" style="left:115px;top:1425.5px;width:1026px">медицинских организациях третьего уровня, 15 медицинских организациях второго</div>
<div class="t" style="left:115px;top:1461.5px">уровня и тридцати четырех медицинских организациях первого уровня.</div>
</body></html>
